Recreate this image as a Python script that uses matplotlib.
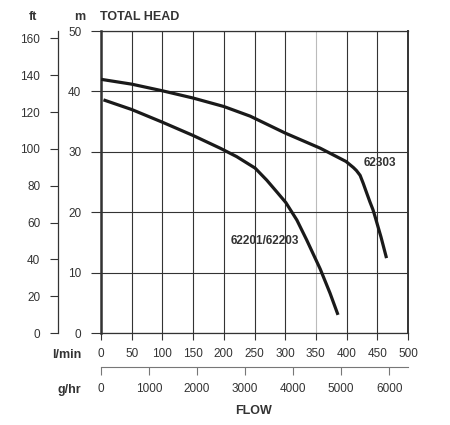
import matplotlib
matplotlib.use("Agg")
import matplotlib.pyplot as plt

plt.rcParams['font.family'] = ['Liberation Sans', 'DejaVu Sans']

# pump curves, flow in l/min, head in m
flow_62303 = [0, 50, 100, 150, 200, 243, 300, 357, 378, 399, 411, 416, 422, 427, 433, 438, 443, 446, 456, 465]
head_62303 = [42.0, 41.2, 40.1, 38.9, 37.5, 35.9, 33.1, 30.6, 29.5, 28.4, 27.4, 26.9, 26.1, 24.8, 23.1,
              21.7, 20.4, 19.4, 15.9, 12.4]

flow_62201 = [4, 50, 100, 150, 194, 221, 251, 270, 286, 301, 319, 335, 357, 373, 386]
head_62201 = [38.6, 37.0, 34.9, 32.7, 30.6, 29.2, 27.3, 25.3, 23.4, 21.6, 18.7, 15.4, 10.6, 6.6, 3.0]

lpm_ticks = [0, 50, 100, 150, 200, 250, 300, 350, 400, 450, 500]
m_ticks = [0, 10, 20, 30, 40, 50]
ft_ticks = [0, 20, 40, 60, 80, 100, 120, 140, 160]
gph_ticks = [0, 1000, 2000, 3000, 4000, 5000, 6000]

FT_PER_M = 3.2808
GPH_PER_LPM = 12.78

dark = '#333333'

fig = plt.figure(figsize=(4.5, 4.25), dpi=100)
ax = fig.add_axes([101 / 450, 92 / 425, 307 / 450, 302 / 425])

ax.plot(flow_62303, head_62303, color='#1a1a1a', lw=2.3, solid_capstyle='butt',
        solid_joinstyle='round', zorder=3)
ax.plot(flow_62201, head_62201, color='#1a1a1a', lw=2.3, solid_capstyle='butt',
        solid_joinstyle='round', zorder=3)

ax.set_xlim(0, 500)
ax.set_ylim(0, 50)
ax.set_xticks(lpm_ticks)
ax.set_yticks(m_ticks)
ax.tick_params(axis='x', direction='out', length=5, width=0.8, color=dark,
               labelsize=8.5, labelcolor=dark, pad=6)
ax.tick_params(axis='y', direction='out', length=7.2, width=0.8, color=dark,
               labelsize=8.5, labelcolor=dark, pad=7)

ax.grid(True, color=dark, lw=0.8)
ax.get_xgridlines()[7].set_color('#bbbbbb')
for side in ['top', 'bottom']:
    ax.spines[side].set_color(dark)
    ax.spines[side].set_linewidth(0.9)
ax.spines['left'].set_linewidth(1.8)
ax.spines['left'].set_color(dark)
ax.spines['right'].set_linewidth(1.4)
ax.spines['right'].set_color(dark)

# feet scale on the far left
ft_ax = ax.secondary_yaxis(-0.14, functions=(lambda m: m * FT_PER_M, lambda f: f / FT_PER_M))
ft_ax.set_yticks(ft_ticks)
ft_ax.tick_params(direction='out', length=5.8, width=0.8, color=dark,
                  labelsize=8.5, labelcolor=dark, pad=7)
ft_ax.spines['left'].set_color(dark)
ft_ax.spines['left'].set_linewidth(0.9)

# gallons per hour scale under the flow axis
g_ax = ax.secondary_xaxis(-0.1116, functions=(lambda q: q * GPH_PER_LPM, lambda g: g / GPH_PER_LPM))
g_ax.set_xticks(gph_ticks)
g_ax.tick_params(direction='out', length=6, width=0.8, color='#777777',
                 labelsize=8.5, labelcolor=dark, pad=6)
g_ax.spines['bottom'].set_color('#777777')
g_ax.spines['bottom'].set_linewidth(0.8)

ax.text(455, 28.1, '62303', fontsize=8.5, fontweight='bold', color=dark,
        ha='center', va='center', zorder=4)
ax.text(267, 15.3, '62201/62203', fontsize=8.5, fontweight='bold', color=dark,
        ha='center', va='center', zorder=4)

fig.text(100 / 450, 1 - 17 / 425, 'TOTAL HEAD', fontsize=9, fontweight='bold',
         color=dark, ha='left', va='center')
fig.text(80 / 450, 1 - 17 / 425, 'm', fontsize=9, fontweight='bold',
         color=dark, ha='center', va='center')
fig.text(33 / 450, 1 - 17 / 425, 'ft', fontsize=9, fontweight='bold',
         color=dark, ha='center', va='center')
fig.text(81 / 450, 1 - 355 / 425, 'l/min', fontsize=9, fontweight='bold',
         color=dark, ha='right', va='center')
fig.text(81 / 450, 1 - 390 / 425, 'g/hr', fontsize=9, fontweight='bold',
         color=dark, ha='right', va='center')
fig.text(254 / 450, 1 - 411 / 425, 'FLOW', fontsize=9, fontweight='bold',
         color=dark, ha='center', va='center')

fig.savefig('out.png', dpi=100)
